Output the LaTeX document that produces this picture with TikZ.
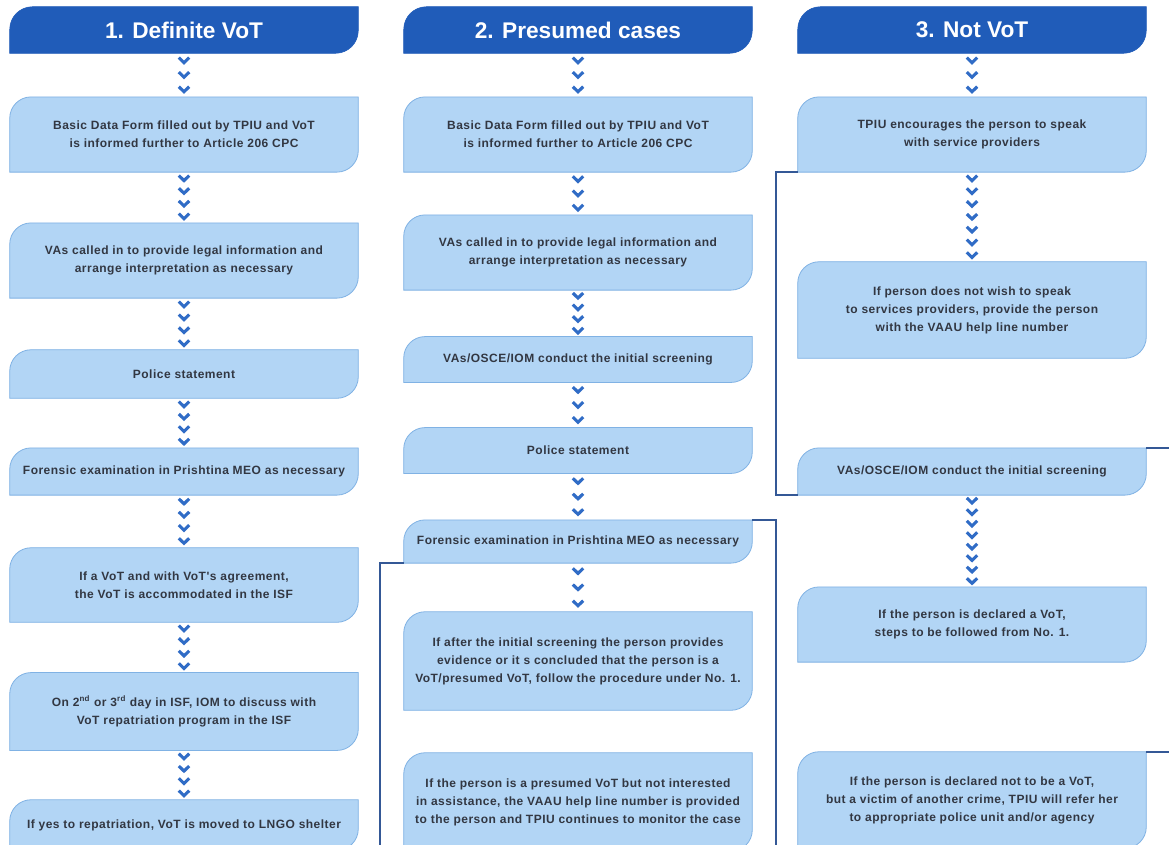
\documentclass[tikz,border=0pt]{standalone}
\usepackage{fontspec}
\setmainfont{Liberation Sans}
\newfontfamily\stepfont{Liberation Sans}[LetterSpace=4.0]
\usetikzlibrary{calc,backgrounds}

\definecolor{headblue}{RGB}{32,92,185}
\definecolor{boxblue}{RGB}{178,213,245}
\definecolor{boxedge}{RGB}{128,178,228}
\definecolor{chevblue}{RGB}{48,108,198}
\definecolor{linkblue}{RGB}{52,88,150}
\definecolor{steptext}{RGB}{50,55,66}

\tikzset{
  header/.style={minimum width=261pt, minimum height=34.5pt, inner sep=0pt, text=white,
    font=\fontsize{17}{20}\selectfont\bfseries},
  stepbox/.style={minimum width=261pt, minimum height=#1, inner sep=0pt, align=center,
    text=steptext, font=\stepfont\fontsize{9}{13.5}\selectfont\bfseries},
  stepbox/.default=56pt,
  chevron/.style={draw=chevblue, line width=2.3pt, line join=miter},
  bracket/.style={draw=linkblue, line width=1.5pt},
}

% outline with rounded top-left and bottom-right corners
\newcommand{\boxshape}[3]{%
  \filldraw[#2] (#1.south west) -- ([yshift=-#3]#1.north west)
    arc[start angle=180, end angle=90, radius=#3] -- (#1.north east)
    -- ([yshift=#3]#1.south east)
    arc[start angle=0, end angle=-90, radius=#3] -- cycle;}

% a stack of chevrons between two nodes
\newcommand{\chevs}[3]{%
  \foreach \i in {1,...,#3}
    \draw[chevron] ($(#1.south)!{(\i-0.5)/#3}!(#2.north)$)
      +(-3.9pt,2.2pt) -- +(0pt,-1.6pt) -- +(3.9pt,2.2pt);}

\begin{document}
\begin{tikzpicture}[x=0.75pt, y=-0.75pt]
    \useasboundingbox (0,0) rectangle (1169,844);

    % Column 1
    \node[header] (h1) at (184,30) {1. Definite VoT};
    \node[stepbox] (a1) at (184,134.5) {Basic Data Form filled out by TPIU and VoT\\ is informed further to Article 206 CPC};
    \node[stepbox] (a2) at (184,260.5) {VAs called in to provide legal information and\\ arrange interpretation as necessary};
    \node[stepbox=36pt] (a3) at (184,374) {Police statement};
    \node[stepbox=35pt] (a4) at (184,471.5) {Forensic examination in Prishtina MEO as necessary};
    \node[stepbox=55.5pt] (a5) at (184,585) {If a VoT and with VoT's agreement,\\ the VoT is accommodated in the ISF};
    \node[stepbox=58pt] (a6) at (184,711.5) {On 2\textsuperscript{nd} or 3\textsuperscript{rd} day in ISF, IOM to discuss with\\ VoT repatriation program in the ISF};
    \node[stepbox=37.5pt] (a7) at (184,825) {If yes to repatriation, VoT is moved to LNGO shelter};

    % Column 2
    \node[header] (h2) at (578,30) {2. Presumed cases};
    \node[stepbox] (b1) at (578,134.5) {Basic Data Form filled out by TPIU and VoT\\ is informed further to Article 206 CPC};
    \node[stepbox] (b2) at (578,252.5) {VAs called in to provide legal information and\\ arrange interpretation as necessary};
    \node[stepbox=34pt] (b3) at (578,359.5) {VAs/OSCE/IOM conduct the initial screening};
    \node[stepbox=34pt] (b4) at (578,450.5) {Police statement};
    \node[stepbox=32pt] (b5) at (578,541.5) {Forensic examination in Prishtina MEO as necessary};
    \node[stepbox=73.5pt] (b6) at (578,661) {If after the initial screening the person provides\\ evidence or it s concluded that the person is a\\ VoT/presumed VoT, follow the procedure under No. 1.};
    \node[stepbox=73.5pt] (b7) at (578,802) {If the person is a presumed VoT but not interested\\ in assistance, the VAAU help line number is provided\\ to the person and TPIU continues to monitor the case};

    % Column 3
    \node[header] (h3) at (972,30) {3. Not VoT};
    \node[stepbox] (c1) at (972,134.5) {TPIU encourages the person to speak\\ with service providers};
    \node[stepbox=72pt] (c2) at (972,310) {If person does not wish to speak\\ to services providers, provide the person\\ with the VAAU help line number};
    \node[stepbox=35pt] (c3) at (972,471.5) {VAs/OSCE/IOM conduct the initial screening};
    \node[stepbox] (c4) at (972,624.5) {If the person is declared a VoT,\\ steps to be followed from No. 1.};
    \node[stepbox=72pt] (c5) at (972,800) {If the person is declared not to be a VoT,\\ but a victim of another crime, TPIU will refer her\\ to appropriate police unit and/or agency};

    % Box shapes behind the text
    \begin{scope}[on background layer]
        \fill[white] (0,0) rectangle (1169,844);
        \foreach \n in {h1,h2,h3}
            \boxshape{\n}{fill=headblue, draw=headblue}{17pt};
        \foreach \n in {a1,a2,a3,a4,a5,a6,a7,b1,b2,b3,b4,b5,b6,b7,c1,c2,c3,c4,c5}
            \boxshape{\n}{fill=boxblue, draw=boxedge, line width=0.6pt}{16pt};
    \end{scope}

    % Chevrons
    \chevs{h1}{a1}{3} \chevs{a1}{a2}{4} \chevs{a2}{a3}{4} \chevs{a3}{a4}{4}
    \chevs{a4}{a5}{4} \chevs{a5}{a6}{4} \chevs{a6}{a7}{4}
    \chevs{h2}{b1}{3} \chevs{b1}{b2}{3} \chevs{b2}{b3}{4} \chevs{b3}{b4}{3}
    \chevs{b4}{b5}{3} \chevs{b5}{b6}{3}
    \chevs{h3}{c1}{3} \chevs{c1}{c2}{7} \chevs{c3}{c4}{8}

    % Brackets
    \draw[bracket] (c1.south west) -- ++(-22,0) |- (c3.south west);
    \draw[bracket] (c3.north east) -- ++(30,0) |- (c5.north east);
    \draw[bracket] (b5.north east) -- ++(24,0) -- ++(0,380);
    \draw[bracket] (b5.south west) -- ++(-24,0) -- ++(0,330);
\end{tikzpicture}
\end{document}
